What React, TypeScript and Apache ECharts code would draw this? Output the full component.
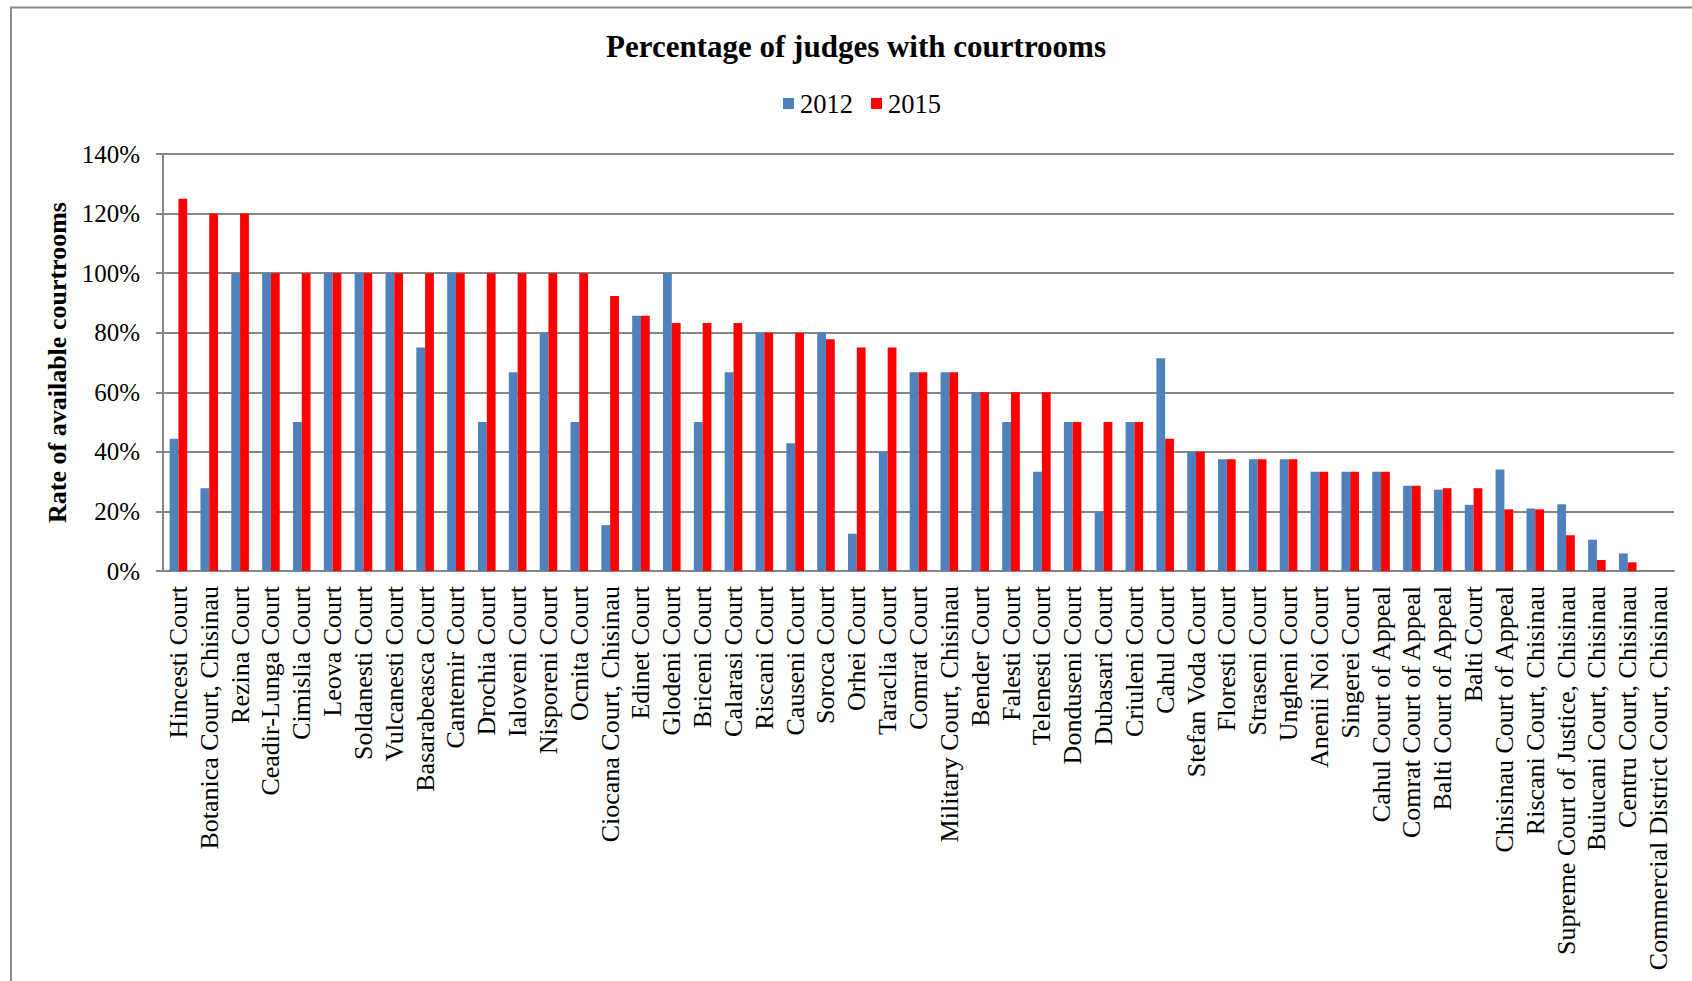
import React, { useEffect, useRef } from "react";
import * as echarts from "echarts";

const categories: string[] = [
  "Hincesti Court",
  "Botanica Court, Chisinau",
  "Rezina Court",
  "Ceadir-Lunga Court",
  "Cimislia Court",
  "Leova Court",
  "Soldanesti Court",
  "Vulcanesti Court",
  "Basarabeasca Court",
  "Cantemir Court",
  "Drochia Court",
  "Ialoveni Court",
  "Nisporeni Court",
  "Ocnita Court",
  "Ciocana Court, Chisinau",
  "Edinet Court",
  "Glodeni Court",
  "Briceni Court",
  "Calarasi Court",
  "Riscani Court",
  "Causeni Court",
  "Soroca Court",
  "Orhei Court",
  "Taraclia Court",
  "Comrat Court",
  "Military Court, Chisinau",
  "Bender Court",
  "Falesti Court",
  "Telenesti Court",
  "Donduseni Court",
  "Dubasari Court",
  "Criuleni Court",
  "Cahul Court",
  "Stefan Voda Court",
  "Floresti Court",
  "Straseni Court",
  "Ungheni Court",
  "Anenii Noi Court",
  "Singerei Court",
  "Cahul Court of Appeal",
  "Comrat Court of Appeal",
  "Balti Court of Appeal",
  "Balti Court",
  "Chisinau Court of Appeal",
  "Riscani Court, Chisinau",
  "Supreme Court of Justice, Chisinau",
  "Buiucani Court, Chisinau",
  "Centru Court, Chisinau",
  "Commercial District Court, Chisinau",
];

const values2012: (number | null)[] = [
  44.4, 27.8, 100, 100, 50, 100, 100, 100, 75, 100, 50, 66.7, 80, 50, 15.4,
  85.7, 100, 50, 66.7, 80, 42.9, 80, 12.5, 40, 66.7, 66.7, 60, 50, 33.3, 50,
  20, 50, 71.4, 40, 37.5, 37.5, 37.5, 33.3, 33.3, 33.3, 28.6, 27.3, 22.2, 34.1,
  21.0, 22.4, 10.5, 5.9, null,
];

const values2015: (number | null)[] = [
  125, 120, 120, 100, 100, 100, 100, 100, 100, 100, 100, 100, 100, 100, 92.3,
  85.7, 83.3, 83.3, 83.3, 80, 80, 77.8, 75, 75, 66.7, 66.7, 60, 60, 60, 50, 50,
  50, 44.4, 40, 37.5, 37.5, 37.5, 33.3, 33.3, 33.3, 28.6, 27.8, 27.8, 20.7,
  20.7, 12.0, 3.7, 2.9, null,
];

const seriesNames = ["2012", "2015"];
const titleText = "Percentage of judges with courtrooms";
const yAxisName = "Rate of available courtrooms";

const FONT = "'Liberation Serif', 'Times New Roman', serif";

export default function App() {
  const ref = useRef<HTMLDivElement>(null);
  useEffect(() => {
    if (!ref.current) return;
    const chart = echarts.init(ref.current, undefined, { renderer: "svg" });
    chart.setOption({
      animation: false,
      backgroundColor: "#ffffff",
      textStyle: { fontFamily: FONT, color: "#000" },
      title: {
        text: titleText,
        left: 856,
        top: 31,
        textAlign: "center",
        padding: 0,
        textStyle: {
          fontFamily: FONT,
          fontWeight: "bold",
          fontSize: 31,
          color: "#000",
        },
      },
      legend: {
        data: seriesNames,
        left: 783,
        top: 90,
        padding: 0,
        itemWidth: 11,
        itemHeight: 11,
        itemGap: 18,
        icon: "rect",
        textStyle: {
          fontFamily: FONT,
          fontSize: 26.5,
          color: "#000",
          padding: [0, 0, 0, 1],
        },
      },
      graphic: [
        {
          type: "rect",
          shape: { x: 11, y: 7.5, width: 1720, height: 1010 },
          style: { fill: "none", stroke: "#8c8c8c", lineWidth: 2 },
          silent: true,
        },
      ],
      grid: { left: 163, right: 18, top: 154, bottom: 410, containLabel: false },
      xAxis: {
        type: "category",
        data: categories,
        axisLine: { show: true, lineStyle: { color: "#868686", width: 2 } },
        axisTick: { show: false },
        axisLabel: {
          interval: 0,
          rotate: 90,
          margin: 15,
          fontFamily: FONT,
          fontSize: 26,
          color: "#000",
        },
      },
      yAxis: {
        type: "value",
        min: 0,
        max: 140,
        interval: 20,
        name: yAxisName,
        nameLocation: "middle",
        nameGap: 91,
        nameTextStyle: {
          fontFamily: FONT,
          fontWeight: "bold",
          fontSize: 26,
          color: "#000",
        },
        axisLine: { show: true, lineStyle: { color: "#868686", width: 2 } },
        axisTick: { show: true, length: 7, lineStyle: { color: "#868686", width: 2 } },
        axisLabel: {
          formatter: "{value}%",
          margin: 23,
          fontFamily: FONT,
          fontSize: 25,
          color: "#000",
        },
        splitLine: { show: true, lineStyle: { color: "#868686", width: 2 } },
      },
      series: [
        {
          name: seriesNames[0],
          type: "bar",
          data: values2012,
          itemStyle: { color: "#4F81BD" },
          barGap: "0%",
          barCategoryGap: "43%",
        },
        {
          name: seriesNames[1],
          type: "bar",
          data: values2015,
          itemStyle: { color: "#FF0000" },
          barGap: "0%",
          barCategoryGap: "43%",
        },
      ],
    });
    return () => chart.dispose();
  }, []);
  return (
    <div
      ref={ref}
      style={{ position: "fixed", left: 0, top: 0, width: 1692, height: 981 }}
    />
  );
}
